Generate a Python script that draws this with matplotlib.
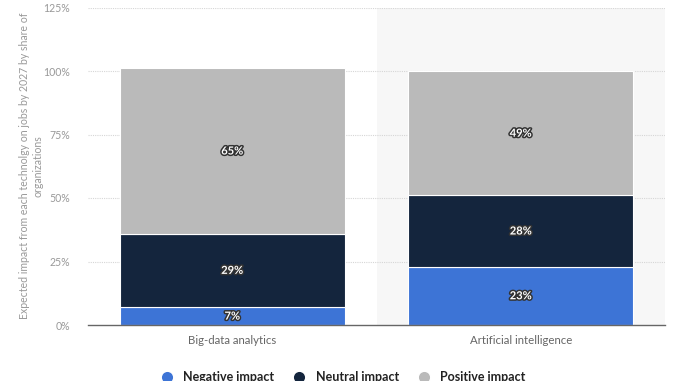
import matplotlib
matplotlib.use("Agg")
import matplotlib.pyplot as plt
import matplotlib.patheffects as pe
from matplotlib.lines import Line2D
import numpy as np

categories = ["Big-data analytics", "Artificial intelligence"]
series_names = ["Negative impact", "Neutral impact", "Positive impact"]
negative = [7, 23]
neutral = [29, 28]
positive = [65, 49]
colors = ["#3d74d6", "#14253d", "#bababa"]
yticks = [0, 25, 50, 75, 100, 125]
ytick_labels = ["0%", "25%", "50%", "75%", "100%", "125%"]

plt.rcParams['font.family'] = ['Lato', 'DejaVu Sans']

fig = plt.figure(figsize=(6.78, 3.81), dpi=100)
ax = fig.add_axes([88/678, 1-325/381, (665-88)/678, (325-7.5)/381])

x = np.arange(len(categories))
ax.axvspan(0.5, 1.5, color="#f7f7f7", zorder=0, lw=0)

for yv in yticks[1:]:
    ax.axhline(yv, color="#d6d6d6", lw=0.8, ls=(0, (1, 1)), zorder=1)

bottom = np.zeros(len(categories))
for vals, col in zip([negative, neutral, positive], colors):
    vals = np.array(vals, dtype=float)
    ax.bar(x, vals, 0.78, bottom=bottom, color=col, edgecolor="white", lw=0.8, zorder=2)
    for xi, b, v in zip(x, bottom, vals):
        ax.text(xi, b + v/2, f"{int(v)}%", ha="center", va="center", fontsize=8,
                fontweight="bold", color="white", zorder=3,
                path_effects=[pe.withStroke(linewidth=2.2, foreground="#333333")])
    bottom += vals

ax.set_xlim(-0.5, 1.5)
ax.set_ylim(0, 125)
ax.set_yticks(yticks)
ax.set_yticklabels(ytick_labels)
ax.set_xticks(x)
ax.set_xticklabels(categories)
ax.tick_params(axis="y", length=0, pad=13, labelsize=7.6, labelcolor="#999999")
ax.tick_params(axis="x", length=0, pad=7, labelsize=8.2, labelcolor="#666666")
for s in ["top", "right", "left"]:
    ax.spines[s].set_visible(False)
ax.spines["bottom"].set_color("#666666")
ax.spines["bottom"].set_linewidth(1.0)
ax.spines["bottom"].set_zorder(4)

fig.text(31/678, 1-166/381,
         "Expected impact from each technolgy on jobs by 2027 by share of\norganizations",
         rotation=90, ha="center", va="center", fontsize=7.6, color="#999999",
         multialignment="center", linespacing=1.25)

handles = [Line2D([0], [0], marker="o", color="w", markerfacecolor=c, markersize=9, lw=0)
           for c in colors]
fig.legend(handles, series_names, loc="center", bbox_to_anchor=(340/678, 1-377/381),
           ncol=3, frameon=False, handletextpad=0.3, columnspacing=1.0,
           prop={"weight": "bold", "size": 9}, labelcolor="#222222")

fig.savefig("out.png", dpi=100)
